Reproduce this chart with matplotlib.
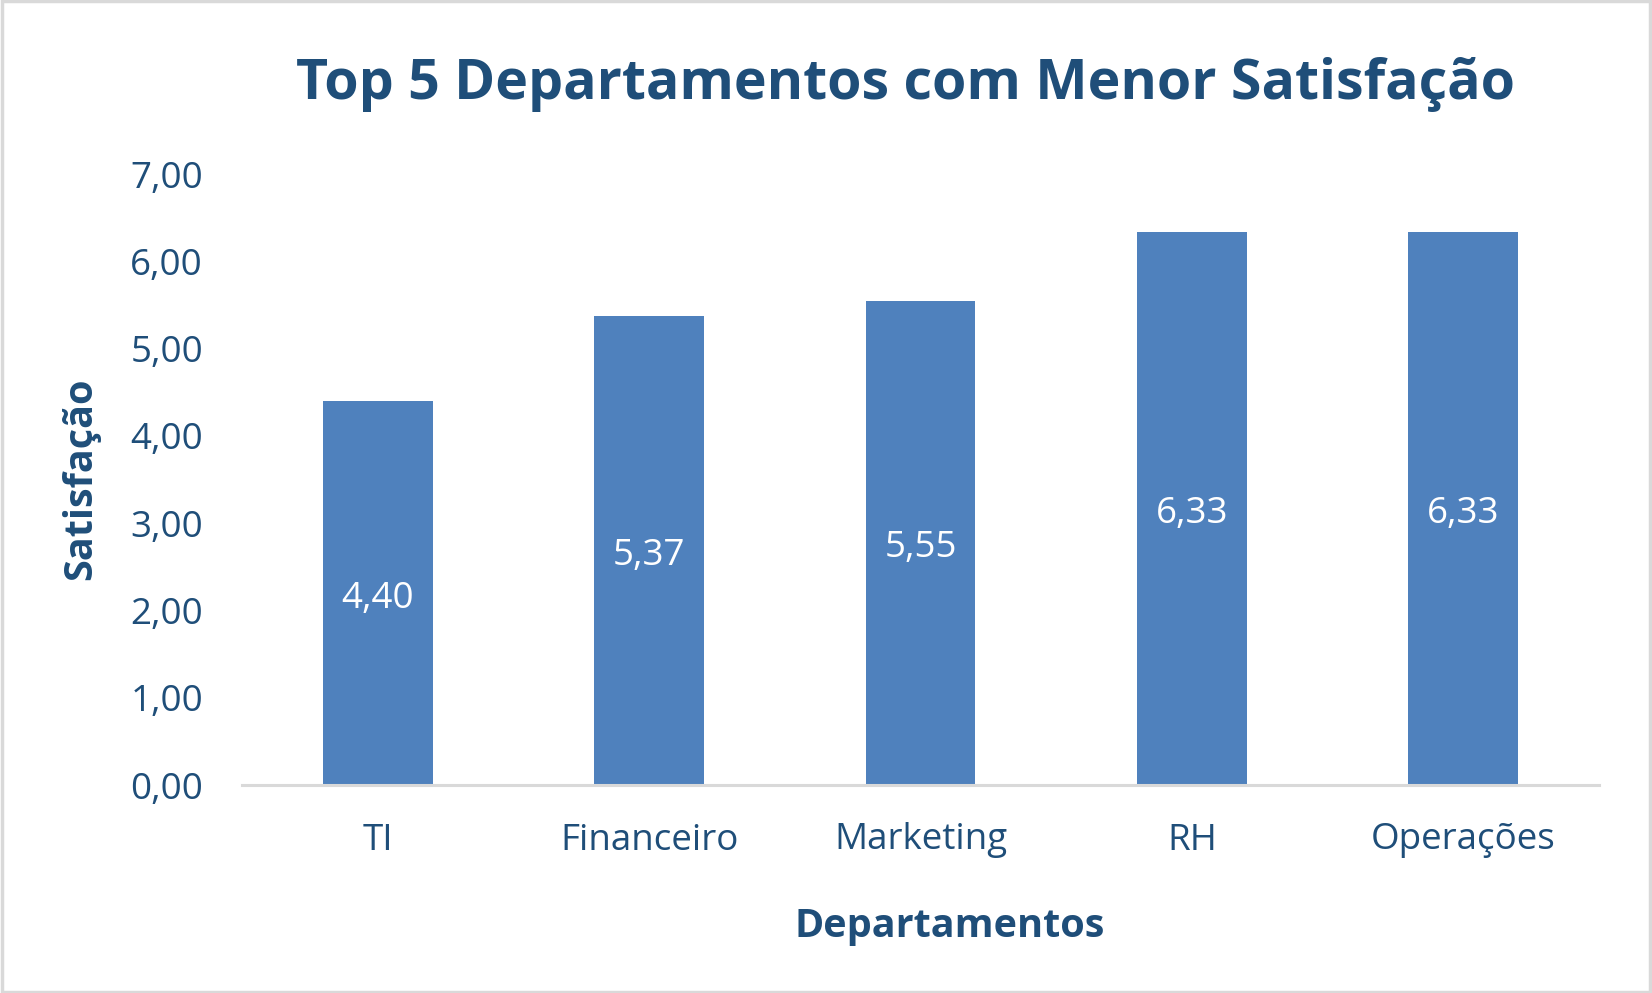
import matplotlib.pyplot as plt
from matplotlib.patches import Rectangle

# data
departamentos = ['TI', 'Financeiro', 'Marketing', 'RH', 'Operações']
satisfacao = [4.40, 5.37, 5.55, 6.33, 6.33]
yticks = [0, 1, 2, 3, 4, 5, 6, 7]

txt = '#1f4e79'
bar_color = '#4f81bd'
plt.rcParams['font.family'] = ['Open Sans', 'DejaVu Sans']

fig = plt.figure(figsize=(16.52, 9.93), dpi=100)
ax = fig.add_axes([242 / 1652, 1 - 785 / 993, 1357 / 1652, (785 - 174) / 993])

bars = ax.bar(range(len(departamentos)), satisfacao, width=0.405, color=bar_color)
ax.set_xlim(-0.5, len(departamentos) - 0.5)
ax.set_ylim(0, 7)
ax.set_yticks(yticks)
ax.set_yticklabels([f'{v:.2f}'.replace('.', ',') for v in yticks])
ax.set_xticks(range(len(departamentos)))
ax.set_xticklabels(departamentos)
ax.tick_params(axis='both', length=0, labelsize=26.5, colors=txt)
ax.tick_params(axis='x', pad=27)
ax.tick_params(axis='y', pad=28)

for s in ['top', 'right', 'left']:
    ax.spines[s].set_visible(False)
ax.spines['bottom'].set_color('#d9d9d9')
ax.spines['bottom'].set_linewidth(2.2)

labels = ax.bar_label(bars, labels=[f'{v:.2f}'.replace('.', ',') for v in satisfacao],
                      label_type='center', color='white', fontsize=26.5)
for lb in labels:
    lb.xyann = (0, -4)

fig.text(906 / 1652, 1 - 84 / 993, 'Top 5 Departamentos com Menor Satisfação',
         ha='center', va='center', fontsize=40, fontweight='bold', color=txt)
fig.text(950 / 1652, 1 - 927 / 993, 'Departamentos', ha='center', va='center',
         fontsize=28.5, fontweight='bold', color=txt)
fig.text(81 / 1652, 1 - 479 / 993, 'Satisfação', ha='center', va='center',
         rotation=90, fontsize=28.5, fontweight='bold', color=txt)

# light border around the chart
fig.patches.append(Rectangle((0.001, 0.0015), 0.998, 0.997, transform=fig.transFigure,
                             fill=False, edgecolor='#d9d9d9', linewidth=2.5))

fig.savefig('out.png', dpi=100)
